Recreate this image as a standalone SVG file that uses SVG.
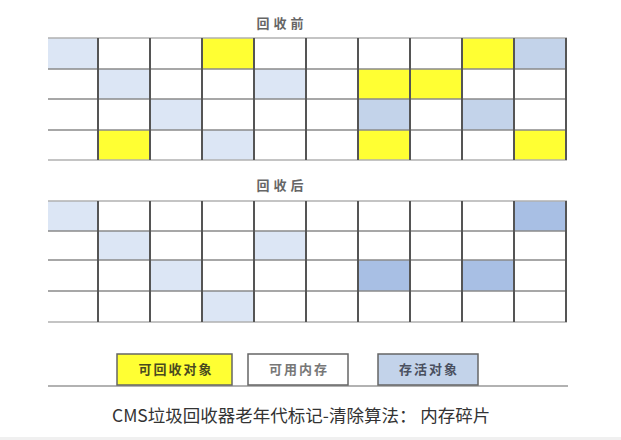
<svg xmlns="http://www.w3.org/2000/svg" width="621" height="440" viewBox="0 0 621 440">
<style>
.lb{fill:#dce6f5}
.y{fill:#ffff33}
.mb{fill:#c3d3ea}
.db{fill:#a8bfe4}
.h{stroke:#8a8a8a;stroke-width:1.5}
.he{stroke:#b0b0b0;stroke-width:1.5}
.v{stroke:#555;stroke-width:2}
.title{font-family:"Noto Sans CJK SC",sans-serif;font-size:13px;fill:#666;letter-spacing:4px;text-anchor:middle;font-weight:bold}
.leg{font-family:"Noto Sans CJK SC",sans-serif;font-size:13px;font-weight:bold;text-anchor:middle;letter-spacing:2px}
.cap{font-family:"Noto Sans CJK SC",sans-serif;font-size:17.5px;fill:#333}
</style>
<rect width="621" height="440" fill="#fff"/>
<rect x="0" y="437" width="621" height="3" fill="#f0f0f0"/>

<g id="before">
<text class="title" x="282" y="28">回收前</text>
<g id="before-cells">
<rect class="lb" x="48" y="38" width="50" height="31"/>
<rect class="y" x="202" y="38" width="52" height="31"/>
<rect class="y" x="462" y="38" width="52" height="31"/>
<rect class="mb" x="514" y="38" width="52" height="31"/>
<rect class="lb" x="98" y="69" width="52" height="30"/>
<rect class="lb" x="254" y="69" width="52" height="30"/>
<rect class="y" x="358" y="69" width="52" height="30"/>
<rect class="y" x="410" y="69" width="52" height="30"/>
<rect class="lb" x="150" y="99" width="52" height="31"/>
<rect class="mb" x="358" y="99" width="52" height="31"/>
<rect class="mb" x="462" y="99" width="52" height="31"/>
<rect class="y" x="98" y="130" width="52" height="30"/>
<rect class="lb" x="202" y="130" width="52" height="30"/>
<rect class="y" x="358" y="130" width="52" height="30"/>
<rect class="y" x="514" y="130" width="52" height="30"/>
</g>
<g id="before-lines">
<line class="he" x1="48" y1="38" x2="567" y2="38"/>
<line class="h" x1="48" y1="69" x2="567" y2="69"/>
<line class="h" x1="48" y1="99" x2="567" y2="99"/>
<line class="h" x1="48" y1="130" x2="567" y2="130"/>
<line class="he" x1="48" y1="160" x2="567" y2="160"/>
<line class="v" x1="98" y1="38" x2="98" y2="160"/>
<line class="v" x1="150" y1="38" x2="150" y2="160"/>
<line class="v" x1="202" y1="38" x2="202" y2="160"/>
<line class="v" x1="254" y1="38" x2="254" y2="160"/>
<line class="v" x1="306" y1="38" x2="306" y2="160"/>
<line class="v" x1="358" y1="38" x2="358" y2="160"/>
<line class="v" x1="410" y1="38" x2="410" y2="160"/>
<line class="v" x1="462" y1="38" x2="462" y2="160"/>
<line class="v" x1="514" y1="38" x2="514" y2="160"/>
<line class="v" x1="566" y1="38" x2="566" y2="160"/>
</g>
</g>

<g id="after">
<text class="title" x="282" y="190">回收后</text>
<g id="after-cells">
<rect class="lb" x="48" y="201" width="50" height="30"/>
<rect class="db" x="514" y="201" width="52" height="30"/>
<rect class="lb" x="98" y="231" width="52" height="29"/>
<rect class="lb" x="254" y="231" width="52" height="29"/>
<rect class="lb" x="150" y="260" width="52" height="31"/>
<rect class="db" x="358" y="260" width="52" height="31"/>
<rect class="db" x="462" y="260" width="52" height="31"/>
<rect class="lb" x="202" y="291" width="52" height="31"/>
</g>
<g id="after-lines">
<line class="he" x1="48" y1="201" x2="567" y2="201"/>
<line class="h" x1="48" y1="231" x2="567" y2="231"/>
<line class="h" x1="48" y1="260" x2="567" y2="260"/>
<line class="h" x1="48" y1="291" x2="567" y2="291"/>
<line class="he" x1="48" y1="322" x2="567" y2="322"/>
<line class="v" x1="98" y1="201" x2="98" y2="322"/>
<line class="v" x1="150" y1="201" x2="150" y2="322"/>
<line class="v" x1="202" y1="201" x2="202" y2="322"/>
<line class="v" x1="254" y1="201" x2="254" y2="322"/>
<line class="v" x1="306" y1="201" x2="306" y2="322"/>
<line class="v" x1="358" y1="201" x2="358" y2="322"/>
<line class="v" x1="410" y1="201" x2="410" y2="322"/>
<line class="v" x1="462" y1="201" x2="462" y2="322"/>
<line class="v" x1="514" y1="201" x2="514" y2="322"/>
<line class="v" x1="566" y1="201" x2="566" y2="322"/>
</g>
</g>

<g id="legend">
<line x1="48" y1="386" x2="568" y2="386" stroke="#999" stroke-width="1.5"/>
<g id="legend-reclaimable">
<rect x="117" y="354" width="115" height="31" fill="#ffff33" stroke="#666" stroke-width="1.5"/>
<text class="leg" x="176" y="374" fill="#4a4a20">可回收对象</text>
</g>
<g id="legend-free">
<rect x="248" y="354" width="100" height="31" fill="#fff" stroke="#666" stroke-width="1.5"/>
<text class="leg" x="299" y="374" fill="#777">可用内存</text>
</g>
<g id="legend-live">
<rect x="378" y="354" width="100" height="31" fill="#c3d3ea" stroke="#666" stroke-width="1.5"/>
<text class="leg" x="429" y="374" fill="#4a5060">存活对象</text>
</g>
</g>

<text class="cap" x="112" y="422" xml:space="preserve">CMS垃圾回收器老年代标记-清除算法： 内存碎片</text>
</svg>
